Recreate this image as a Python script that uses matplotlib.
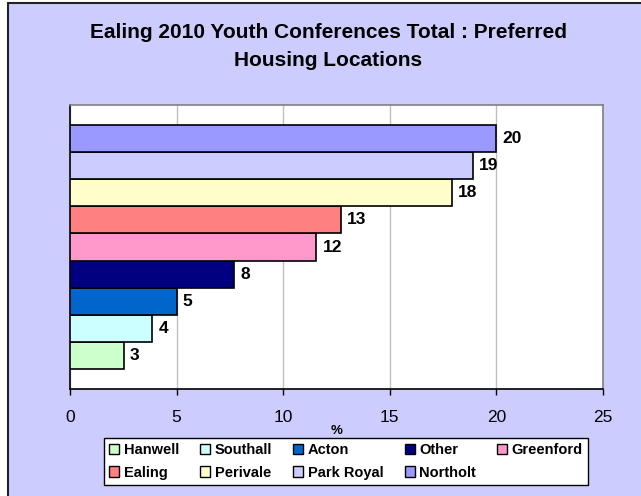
import matplotlib.pyplot as plt
from matplotlib.patches import Rectangle

plt.rcParams['font.family'] = ['Liberation Sans', 'DejaVu Sans']

# Preferred housing locations, % of responses (bottom bar first)
locations = ['Hanwell', 'Southall', 'Acton', 'Other', 'Greenford',
             'Ealing', 'Perivale', 'Park Royal', 'Northolt']
percent = [2.52, 3.85, 5.0, 7.71, 11.55, 12.71, 17.92, 18.89, 20.0]
colours = ['#CCFFCC', '#CCFFFF', '#0066CC', '#000080', '#FF99CC',
           '#FF8080', '#FFFFCC', '#CCCCFF', '#9999FF']
xticks = [0, 5, 10, 15, 20, 25]

W, H = 641, 496
fig = plt.figure(figsize=(W / 100, H / 100), dpi=100)
fig.patch.set_facecolor('white')

# chart area background with its border on the top/left edges
fig.patches.append(Rectangle((8 / W, -0.1), 1.2, 1 - 3 / H + 0.1,
                             transform=fig.transFigure, facecolor='#CCCCFF',
                             edgecolor='#222222', linewidth=1.5, zorder=-5))

ax = fig.add_axes([70 / W, (H - 389) / H, (603 - 70) / W, (389 - 105) / H])
ax.set_facecolor('white')

pos = list(range(len(locations)))
bars = ax.barh(pos, percent, height=1.0, color=colours,
               edgecolor='black', linewidth=1.2, zorder=3)

for y, v in zip(pos, percent):
    ax.annotate(f'{v:.0f}', xy=(v, y), xytext=(4.5, 0),
                textcoords='offset points', va='center', ha='left',
                fontsize=12.5, fontweight='bold', zorder=4)

pad = 0.738
ax.set_ylim(-0.5 - pad, len(locations) - 0.5 + pad)
ax.set_xlim(0, 25)
ax.set_xticks(xticks)
ax.set_yticks([])
ax.tick_params(axis='x', direction='out', length=4, width=1,
               labelsize=12.5, pad=11)
ax.xaxis.grid(True, color='#C0C0C0', linewidth=1)
ax.set_axisbelow(True)

ax.spines['left'].set_color('black')
ax.spines['bottom'].set_color('black')
ax.spines['top'].set_color('#808080')
ax.spines['right'].set_color('#808080')
for s in ax.spines.values():
    s.set_linewidth(1.2)

fig.text(337 / W, 1 - 431 / H, '%', ha='center', va='center',
         fontsize=9.5, fontweight='bold')

fig.text(328 / W, 1 - 33 / H, 'Ealing 2010 Youth Conferences Total : Preferred',
         ha='center', va='center', fontsize=15, fontweight='bold')
fig.text(328 / W, 1 - 60 / H, 'Housing Locations',
         ha='center', va='center', fontsize=15, fontweight='bold')

# legend laid out row by row: 5 columns, filled column-major by matplotlib
order = [0, 5, 1, 6, 2, 7, 3, 8, 4]
handles = [Rectangle((0, 0), 1, 1, facecolor=colours[i], edgecolor='black',
                     linewidth=1) for i in order]
labels = [locations[i] for i in order]
leg = fig.legend(handles, labels, ncol=5, loc='center',
                 bbox_to_anchor=(346 / W, 1 - 461.5 / H),
                 prop={'weight': 'bold', 'size': 10.5},
                 frameon=True, fancybox=False, framealpha=1,
                 handlelength=0.7, handleheight=0.7, handletextpad=0.3,
                 columnspacing=1.45, borderpad=0.35, labelspacing=0.55,
                 borderaxespad=0)
leg.get_frame().set_edgecolor('black')
leg.get_frame().set_linewidth(1)

fig.savefig('out.png', dpi=100, facecolor=fig.get_facecolor())
